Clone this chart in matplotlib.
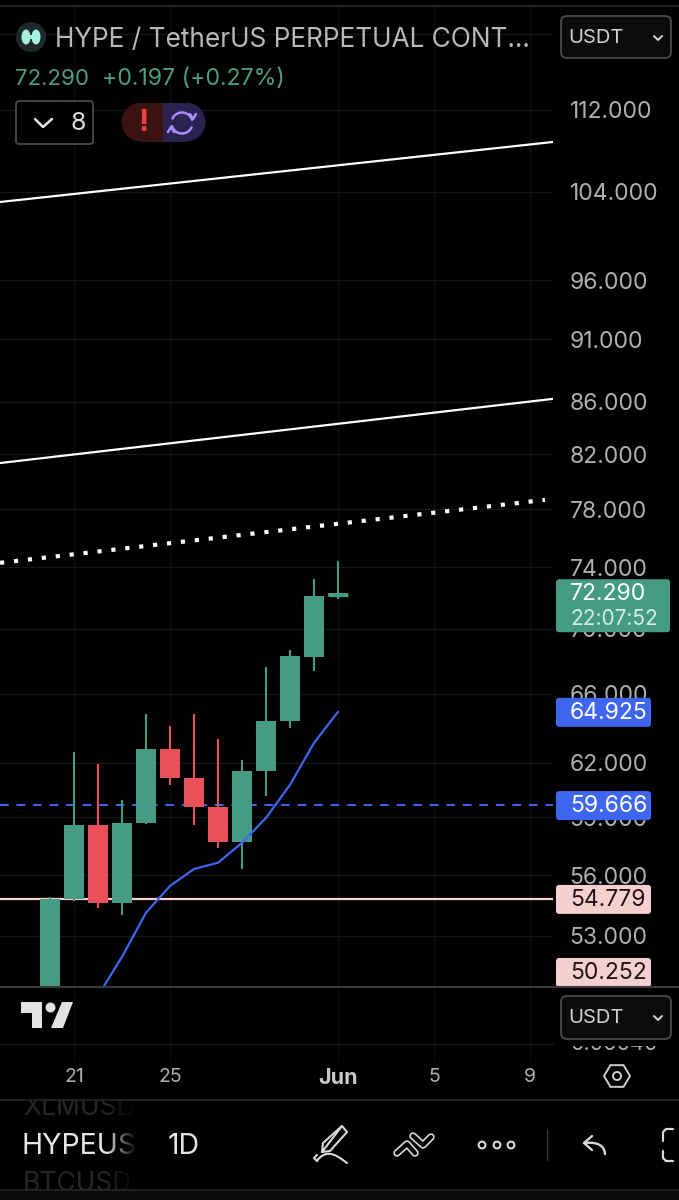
import numpy as np
import matplotlib
matplotlib.use('Agg')
import matplotlib.pyplot as plt
from matplotlib.patches import Rectangle, FancyBboxPatch, Polygon, Circle, Wedge, Ellipse

plt.rcParams['font.family'] = ['Inter', 'DejaVu Sans']

# daily candles, days counted from 1 May (32 = 1 Jun)
days = [20, 21, 22, 23, 24, 25, 26, 27, 28, 29, 30, 31, 32]
opens = [48.60, 54.80, 58.61, 54.61, 58.71, 62.77, 61.16, 59.57, 57.71, 61.54, 64.40, 68.24, 72.093]
closes = [54.80, 58.61, 54.61, 58.71, 62.77, 61.16, 59.57, 57.71, 61.54, 64.40, 68.30, 72.12, 72.29]
highs = [54.90, 62.62, 61.94, 59.95, 64.80, 64.11, 64.80, 63.36, 62.16, 67.63, 68.68, 73.24, 74.44]
lows = [48.20, 54.70, 54.37, 54.02, 58.66, 60.77, 58.61, 57.40, 56.31, 60.17, 63.99, 67.38, 71.91]

ma_days = [22, 23, 24, 25, 26, 27, 28, 29, 30, 31, 32]
ma_values = [50.20, 52.00, 54.12, 55.45, 56.31, 56.63, 57.66, 58.98, 60.77, 63.12, 64.925]

# drawn trend lines, (day, price) at each end
trend_days = [17.92, 40.96]
trend_top = [103.04, 108.80]
trend_mid = [81.34, 86.21]
dotted_days = [17.92, 40.62]
dotted_prices = [74.31, 78.67]

price_ticks = [112, 104, 96, 91, 86, 82, 78, 74, 70, 66, 62, 59, 56, 53]
date_ticks = [21, 25, 32, 36, 40]
date_labels = ['21', '25', 'Jun', '5', '9']

last_price = 72.290
ma_last = 64.925
blue_level = 59.666
pink_level = 54.779
pink_lower = 50.252

GREEN = '#459b83'
RED = '#e9505a'
BLUE = '#3f66f0'
PINK = '#f6cfcf'
GREY = '#b0b0b0'
GRID_H = '#151515'
GRID_V = '#0e0e0e'

W, H = 679, 1200
fig = plt.figure(figsize=(W / 100, H / 100), dpi=100, facecolor='black')

# price pane, log scale
ax = fig.add_axes([0, 1 - 987 / H, 553 / W, (987 - 7) / H], facecolor='black')
ax.set_yscale('log')
ax.set_xlim(17.917, 40.958)
ax.set_ylim(50.60, 122.95)
for s in ax.spines.values():
    s.set_visible(False)
ax.yaxis.tick_right()
ax.set_yticks(price_ticks)
ax.set_yticklabels(['%.3f' % p for p in price_ticks], fontsize=16.5, color=GREY)
ax.minorticks_off()
ax.tick_params(axis='y', length=0, pad=12)
ax.set_xticks(date_ticks)
ax.set_xticklabels([])
ax.tick_params(axis='x', length=0)
ax.grid(True, axis='y', color=GRID_H, lw=1)
ax.grid(True, axis='x', color=GRID_V, lw=1)
ax.axhline(120, color=GRID_H, lw=1, zorder=0)
ax.set_axisbelow(True)

for d, o, c, h, l in zip(days, opens, closes, highs, lows):
    col = GREEN if c >= o else RED
    ax.vlines(d, l, h, color=col, lw=1.5, zorder=3)
    ax.fill_between([d - 0.4, d + 0.4], o, c, color=col, lw=0, zorder=3)
# last candle is almost flat
ax.hlines(closes[-1] - 0.1, days[-1] - 0.4, days[-1] + 0.4, color=GREEN, lw=2.4, zorder=3)

ax.plot(ma_days, ma_values, color=BLUE, lw=1.6, zorder=4)
ax.plot(trend_days, trend_top, color='white', lw=1.6, zorder=4)
ax.plot(trend_days, trend_mid, color='white', lw=1.6, zorder=4)
ax.plot(dotted_days, dotted_prices, color='white', lw=3, ls=(0, (1, 2.36)), zorder=4)
ax.axhline(blue_level, color=BLUE, lw=1.4, ls=(0, (4.5, 4)), zorder=2)
ax.axhline(pink_level, color=PINK, lw=1.6, zorder=2)

# overlay in pixel coordinates for the app chrome
ui = fig.add_axes([0, 0, 1, 1], facecolor='none')
ui.axis('off')


def py(price):
    return H - ax.transData.transform((20, price))[1]


def tag(y, txt, fc, tc, x1=651, h=29):
    ui.add_patch(FancyBboxPatch((556, y - h / 2), x1 - 556, h, boxstyle='round,pad=0,rounding_size=3',
                                fc=fc, ec='none', zorder=5))
    ui.text(570, y + 0.5, txt, color=tc, fontsize=16.5, va='center', ha='left', zorder=6)


def box(x, y, w, h, r=6, fc='#0c0c0e', ec='#4a4a4e', lw=1.3, z=5):
    ui.add_patch(FancyBboxPatch((x, y), w, h, boxstyle='round,pad=0,rounding_size=%g' % r,
                                fc=fc, ec=ec, lw=lw, zorder=z))


def line(xs, ys, col='#d8d8d8', lw=1.5, z=7):
    ui.plot(xs, ys, color=col, lw=lw, zorder=z, solid_capstyle='round', solid_joinstyle='round')


# axis value tags
y0 = py(last_price)
ui.add_patch(FancyBboxPatch((556, y0 - 14), 114, 53, boxstyle='round,pad=0,rounding_size=3',
                            fc=GREEN, ec='none', zorder=5))
ui.text(570, y0 + 1, '72.290', color='white', fontsize=16.5, va='center', zorder=6)
ui.text(570, y0 + 26, '22:07:52', color='#d5efe6', fontsize=15, va='center', zorder=6)
tag(py(ma_last) + 0.5, '64.925', BLUE, 'white')
tag(py(blue_level) + 0.5, '59.666', BLUE, 'white')
tag(py(pink_level), '54.779', PINK, '#201414')
# this one is pushed up so it stays inside the pane
tag(972.5, '50.252', PINK, '#201414')

# header
ui.plot([0, W], [6, 6], color='#2c2c34', lw=1.2, zorder=4)
ui.add_patch(Circle((31, 37), 15, fc='#20282a', ec='none', zorder=5))
ui.add_patch(Ellipse((26, 37), 9, 15, fc='#a5f3e0', ec='none', zorder=6))
ui.add_patch(Ellipse((36, 37), 9, 15, fc='#a5f3e0', ec='none', zorder=6))
ui.add_patch(Rectangle((26, 35), 10, 4, fc='#a5f3e0', ec='none', zorder=6))
ui.text(55, 39.5, 'HYPE / TetherUS PERPETUAL CONT...', color='#b8b8bc', fontsize=18.9, va='center', zorder=6)
ui.text(15, 79, '72.290', color='#4f9c84', fontsize=16, va='center', zorder=6)
ui.text(102, 79, '+0.197 (+0.27%)', color='#4f9c84', fontsize=16.6, va='center', zorder=6)

box(561, 16, 110, 42)
ui.text(568, 38, 'USDT', color='#d0d0d0', fontsize=14.5, va='center', zorder=6)
line([654, 658, 662], [36, 40, 36], lw=1.4)

box(16, 101, 77, 43, r=3, fc='black', ec='#4a4a4e')
line([35, 43, 52], [119, 127, 119], col='#e4e4e4', lw=1.8)
ui.text(70, 123, '8', color='#dedede', fontsize=18, va='center', zorder=6)

# alert / refresh pill
ui.add_patch(Wedge((141, 122), 19.5, 90, 270, fc='#3a1312', ec='none', zorder=5))
ui.add_patch(Rectangle((141, 102.5), 23, 39, fc='#3a1312', ec='none', zorder=5))
ui.add_patch(Rectangle((163, 102.5), 23, 39, fc='#2a2250', ec='none', zorder=5))
ui.add_patch(Wedge((186, 122), 19.5, 270, 90, fc='#2a2250', ec='none', zorder=5))
ui.text(144, 123, '!', color='#f0423a', fontsize=22, weight='bold', va='center', ha='center', zorder=6)
t = np.linspace(0.3, 2.7, 30)
line(182 + 10.5 * np.cos(t), 123 - 10.5 * np.sin(t), col='#a98cf5', lw=1.8)
line(182 - 10.5 * np.cos(t), 123 + 10.5 * np.sin(t), col='#a98cf5', lw=1.8)
line([190, 193, 196], [114, 119, 114], col='#a98cf5', lw=1.8)
line([168, 171, 174], [132, 127, 132], col='#a98cf5', lw=1.8)

# lower pane hides whatever runs under it
ui.add_patch(Rectangle((0, 988), W, 212, fc='black', ec='none', zorder=8))
ui.plot([0, W], [987, 987], color='#38383e', lw=1.5, zorder=9)
for d in date_ticks:
    xp = ax.transData.transform((d, 60))[0]
    ui.plot([xp, xp], [988, 1060], color=GRID_V, lw=1, zorder=9)
ui.plot([0, 553], [1044, 1044], color=GRID_H, lw=1, zorder=9)
ui.text(571, 1044.5, '0.00040', color=GREY, fontsize=15.5, va='center', zorder=9)
ui.add_patch(Rectangle((556, 1000), 123, 45.5, fc='black', ec='none', zorder=10))

logo = '#e2e2e2'
ui.add_patch(Polygon([(21, 1002), (42, 1002), (42, 1028), (32, 1028), (32, 1013), (21, 1013)], fc=logo, ec='none', zorder=11))
ui.add_patch(Circle((50.5, 1007.5), 5, fc=logo, ec='none', zorder=11))
ui.add_patch(Polygon([(62, 1002), (73, 1002), (63, 1028), (51, 1028)], fc=logo, ec='none', zorder=11))

box(561, 996, 110, 43, z=11)
ui.text(568, 1018, 'USDT', color='#d0d0d0', fontsize=14.5, va='center', zorder=12)
line([654, 658, 662], [1016, 1020, 1016], lw=1.4, z=12)

# date labels
for d, lab in zip(date_ticks, date_labels):
    xp = ax.transData.transform((d, 60))[0]
    is_month = lab == 'Jun'
    ui.text(xp, 1077.5, lab, color='#c8c8c8' if is_month else '#b0b0b0',
            fontsize=15.5 if is_month else 14, weight='bold' if is_month else 'normal',
            ha='center', va='center', zorder=12)

# settings hexagon
a = np.deg2rad(np.arange(0, 360, 60))
ui.add_patch(Polygon(np.c_[617 + 13 * np.cos(a), 1076 + 12.5 * np.sin(a)], fc='none', ec='#cfcfcf', lw=1.4, zorder=12))
ui.add_patch(Circle((617, 1076), 4, fc='none', ec='#cfcfcf', lw=1.4, zorder=12))

# bottom toolbar
ui.text(23, 1108, 'XLMUSD', color='#262626', fontsize=19, va='center', zorder=12)
ui.text(23, 1184, 'BTCUSD', color='#262626', fontsize=19, va='center', zorder=12)
ui.text(22, 1147, 'HYPEUS', color='#e6e6e6', fontsize=20.5, va='center', zorder=12)
# symbol list fades out on its right side
fade = np.zeros((1, 40, 4))
fade[0, :, 3] = np.linspace(0, 1, 40)
ui.imshow(fade, extent=(105, 137, 1189, 1101), aspect='auto', zorder=13)
ui.add_patch(Rectangle((137, 1100.8), 60, 87.5, fc='black', ec='none', zorder=13))
ui.add_patch(Rectangle((0, 1089), W, 11, fc='black', ec='none', zorder=13))
ui.add_patch(Rectangle((0, 1190), W, 10, fc='#0a0a0a', ec='none', zorder=13))
ui.plot([0, W], [1100, 1100], color='#26262a', lw=1.2, zorder=14)
ui.plot([0, W], [1189.5, 1189.5], color='#26262a', lw=1.2, zorder=14)
ui.text(168, 1147, '1D', color='#e6e6e6', fontsize=20.5, va='center', zorder=14)

# pencil
line([322, 342, 347, 330, 322, 323], [1152, 1126, 1132, 1151, 1152, 1143], lw=1.5, z=14)
line([323, 342], [1143, 1126], lw=1.5, z=14)
t = np.linspace(0, 1, 25)
line(317 + 30 * t, 1161 - 8 * np.sin(np.pi * t ** 0.8) + 2 * t, lw=1.5, z=14)
line([317, 314, 317], [1161, 1158, 1155], lw=1.5, z=14)
# trend tool: light stroke with a dark core gives the outlined look
for xs, ys in [([397, 407, 415], [1153, 1144, 1153]), ([413, 423, 431], [1136, 1145, 1137])]:
    line(xs, ys, lw=5.4, z=14)
for xs, ys in [([397, 407, 415], [1153, 1144, 1153]), ([413, 423, 431], [1136, 1145, 1137])]:
    line(xs, ys, col='black', lw=3, z=15)
# more
for xc in [482, 497, 511]:
    ui.add_patch(Circle((xc, 1145), 3.4, fc='none', ec='#d8d8d8', lw=1.5, zorder=14))
ui.plot([547, 547], [1129, 1160], color='#333338', lw=1, zorder=14)
# undo arrow, quadratic curve down to the right
t = np.linspace(0, 1, 20)
line((1 - t) ** 2 * 584 + 2 * t * (1 - t) * 604 + t ** 2 * 605,
     (1 - t) ** 2 * 1143 + 2 * t * (1 - t) * 1141 + t ** 2 * 1154, lw=1.7, z=14)
line([592, 584, 592], [1136, 1143, 1150], lw=1.7, z=14)
# fullscreen corners, cut by the edge
line([673, 666, 663, 663], [1129, 1129, 1132, 1141], lw=1.6, z=14)
line([663, 663, 666, 673], [1151, 1158, 1161, 1161], lw=1.6, z=14)

ui.set_xlim(0, W)
ui.set_ylim(H, 0)

fig.savefig('out.png', dpi=100, facecolor='black')
